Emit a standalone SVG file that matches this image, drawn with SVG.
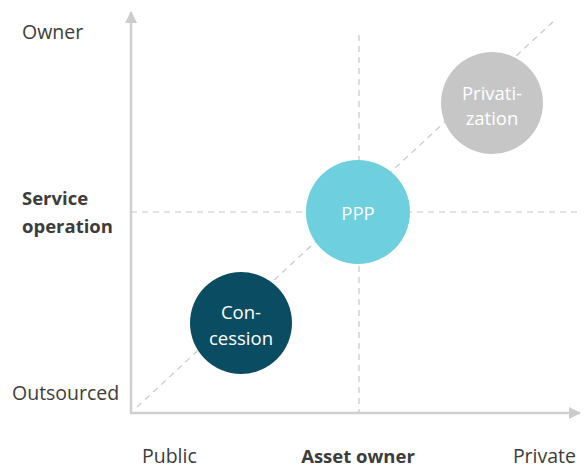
<svg xmlns="http://www.w3.org/2000/svg" width="585" height="469" viewBox="0 0 585 469">
  <defs>
    <marker id="arrow" viewBox="0 0 12 12" refX="11" refY="6" markerWidth="12" markerHeight="12" markerUnits="userSpaceOnUse" orient="auto">
      <path d="M0,0 L12,6 L0,12 Z" fill="#cccccc"/>
    </marker>
    <style>
      .axis { stroke: #cfcfcf; stroke-width: 2.5; fill: none; }
      .guide { stroke: #c8c8c8; stroke-width: 1.2; stroke-dasharray: 6 5; fill: none; }
      .lbl { font-family: "Open Sans", "Liberation Sans", sans-serif; font-size: 19.5px; fill: #3c3c3c; }
      .bold { font-weight: bold; font-size: 18.5px; }
      .in { font-family: "Open Sans", "Liberation Sans", sans-serif; font-size: 18.5px; fill: #ffffff; text-anchor: middle; }
    </style>
  </defs>
  <rect width="585" height="469" fill="#ffffff"/>

  <g id="connectors">
    <line class="guide" x1="359" y1="35" x2="359" y2="412"/>
    <line class="guide" x1="131" y1="212" x2="580" y2="212"/>
    <line class="guide" x1="137" y1="407" x2="556" y2="19"/>
    <line class="axis" x1="131" y1="413" x2="131" y2="12" marker-end="url(#arrow)"/>
    <line class="axis" x1="130" y1="413" x2="580" y2="413" marker-end="url(#arrow)"/>
  </g>

  <g id="concession">
    <circle cx="241" cy="323" r="51" fill="#0a4d63"/>
    <text class="in" x="241" y="319">Con-</text>
    <text class="in" x="241" y="345">cession</text>
  </g>
  <g id="ppp">
    <circle cx="358" cy="212" r="52" fill="#6ecfde"/>
    <text class="in" x="358" y="220">PPP</text>
  </g>
  <g id="privatization">
    <circle cx="492" cy="103" r="51" fill="#c6c6c6"/>
    <text class="in" x="492" y="100">Privati-</text>
    <text class="in" x="492" y="125">zation</text>
  </g>

  <g id="labels">
    <text class="lbl" x="22" y="39">Owner</text>
    <text class="lbl bold" x="22" y="205">Service</text>
    <text class="lbl bold" x="22" y="233">operation</text>
    <text class="lbl" x="12" y="400">Outsourced</text>
    <text class="lbl" x="142" y="463">Public</text>
    <text class="lbl bold" x="358" y="463" text-anchor="middle">Asset owner</text>
    <text class="lbl" x="576" y="463" text-anchor="end">Private</text>
  </g>
</svg>
